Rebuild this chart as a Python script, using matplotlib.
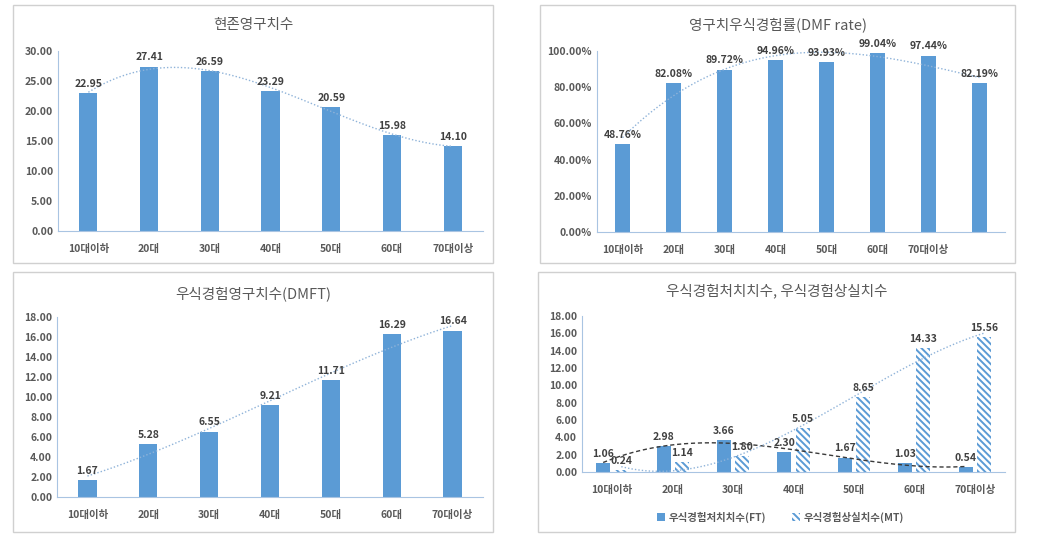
import numpy as np
import matplotlib.pyplot as plt
from matplotlib.patches import Rectangle
from matplotlib.ticker import FuncFormatter

plt.rcParams['font.family'] = ['Noto Sans CJK KR', 'DejaVu Sans']
plt.rcParams['hatch.linewidth'] = 1.4

# data
ages = ['10대이하', '20대', '30대', '40대', '50대', '60대', '70대이상']
ages_dmf = ages + ['']
dt_vals = [22.95, 27.41, 26.59, 23.29, 20.59, 15.98, 14.10]
dmf_rate = [48.76, 82.08, 89.72, 94.96, 93.93, 99.04, 97.44, 82.19]
dmft_vals = [1.67, 5.28, 6.55, 9.21, 11.71, 16.29, 16.64]
ft_vals = [1.06, 2.98, 3.66, 2.30, 1.67, 1.03, 0.54]
mt_vals = [0.24, 1.14, 1.80, 5.05, 8.65, 14.33, 15.56]

titles = ['현존영구치수', '영구치우식경험률(DMF rate)',
          '우식경험영구치수(DMFT)', '우식경험처치치수, 우식경험상실치수']
legend_labels = ['우식경험처치치수(FT)', '우식경험상실치수(MT)']

BLUE = '#5B9BD5'
TXT = '#595959'
LBL = '#404040'
SPINE = '#A9C4E2'

W, H = 1064, 542
fig = plt.figure(figsize=(W / 100, H / 100), dpi=100)


def px_axes(x0, y0, x1, y1):
    return fig.add_axes([x0 / W, 1 - y1 / H, (x1 - x0) / W, (y1 - y0) / H])


def frame(x0, y0, x1, y1):
    fig.patches.append(Rectangle((x0 / W, 1 - y1 / H), (x1 - x0) / W, (y1 - y0) / H,
                                 transform=fig.transFigure, fill=False,
                                 edgecolor='#D0D0D0', lw=1))


def style(ax, n, ymax, step, fmt, labels):
    ax.set_xlim(-0.5, n - 0.5)
    ax.set_ylim(0, ymax)
    ax.set_yticks(np.arange(0, ymax + 0.01, step))
    ax.yaxis.set_major_formatter(FuncFormatter(fmt))
    ax.set_xticks(range(len(labels)))
    ax.set_xticklabels(labels)
    for s in ['top', 'right']:
        ax.spines[s].set_visible(False)
    for s in ['left', 'bottom']:
        ax.spines[s].set_color(SPINE)
    ax.tick_params(length=0, labelsize=7.5, labelcolor=TXT)
    ax.tick_params(axis='x', pad=9)
    for t in ax.get_xticklabels() + ax.get_yticklabels():
        t.set_fontweight('bold')
    ax.patch.set_alpha(0)


def labels_on(ax, xs, vals, fmt):
    for x, v in zip(xs, vals):
        ax.annotate(fmt.format(v), (x, v), xytext=(0, 3), textcoords='offset points',
                    ha='center', va='bottom', fontsize=7.5, fontweight='bold', color=LBL)


def trend(ax, xs, vals, deg, **kw):
    xs = np.asarray(xs, float)
    c = np.polyfit(xs, vals, deg)
    xx = np.linspace(xs[0], xs[-1], 200)
    ax.plot(xx, np.polyval(c, xx), **kw)


dot = dict(color='#8FB3D9', lw=1.0, ls=(0, (1, 1.5)))

# panel 1
frame(13, 5, 493, 263)
ax1 = px_axes(58, 51, 483, 231)
x = np.arange(len(ages))
ax1.bar(x, dt_vals, width=0.3, color=BLUE)
trend(ax1, x, dt_vals, 3, **dot)
labels_on(ax1, x, dt_vals, '{:.2f}')
style(ax1, len(ages), 30, 5, lambda v, p: f'{v:.2f}', ages)
fig.text(253 / W, 1 - 25 / H, titles[0], ha='center', va='center', fontsize=10.5, color=TXT)

# panel 2
frame(540, 5, 1015, 263)
ax2 = px_axes(597, 51, 1005, 232)
x2 = np.arange(len(ages_dmf))
ax2.bar(x2, dmf_rate, width=0.3, color=BLUE)
trend(ax2, x2, dmf_rate, 3, **dot)
labels_on(ax2, x2, dmf_rate, '{:.2f}%')
style(ax2, len(ages_dmf), 100, 20, lambda v, p: f'{v:.2f}%', ages_dmf)
fig.text(778 / W, 1 - 25 / H, titles[1], ha='center', va='center', fontsize=10.5, color=TXT)

# panel 3
frame(13, 272, 493, 532)
ax3 = px_axes(57, 317, 483, 497)
ax3.bar(x, dmft_vals, width=0.3, color=BLUE)
trend(ax3, x, dmft_vals, 3, **dot)
labels_on(ax3, x, dmft_vals, '{:.2f}')
style(ax3, len(ages), 18, 2, lambda v, p: f'{v:.2f}', ages)
fig.text(253 / W, 1 - 294 / H, titles[2], ha='center', va='center', fontsize=10.5, color=TXT)

# panel 4
frame(538, 272, 1015, 532)
ax4 = px_axes(582, 316, 1005, 472)
off = 0.15
bw = 0.23
b1 = ax4.bar(x - off, ft_vals, width=bw, color=BLUE, label=legend_labels[0])
b2 = ax4.bar(x + off, mt_vals, width=bw, facecolor='white', edgecolor='#5B9BD5',
             hatch='\\\\\\\\\\', lw=0, label=legend_labels[1])
trend(ax4, x - off, ft_vals, 3, color='#3A3A3A', lw=1.0, ls=(0, (3, 2)))
trend(ax4, x + off, mt_vals, 3, **dot)
labels_on(ax4, x - off, ft_vals, '{:.2f}')
labels_on(ax4, x + off, mt_vals, '{:.2f}')
style(ax4, len(ages), 18, 2, lambda v, p: f'{v:.2f}', ages)
fig.text(777 / W, 1 - 291 / H, titles[3], ha='center', va='center', fontsize=10.5, color=TXT)
leg = ax4.legend(handles=[b1, b2], loc='center', bbox_to_anchor=(0.47, -0.29), ncol=2,
                 frameon=False, fontsize=7.5, handlelength=0.7, handleheight=0.7,
                 columnspacing=2.5, handletextpad=0.4)
for t in leg.get_texts():
    t.set_fontweight('bold')
    t.set_color(TXT)

fig.savefig('out.png', dpi=100)
